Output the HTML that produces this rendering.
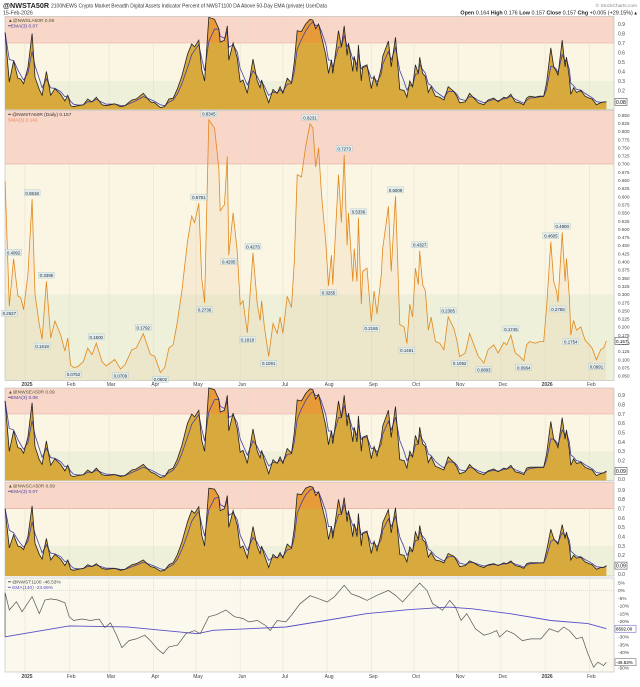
<!DOCTYPE html>
<html><head><meta charset="utf-8">
<style>
body{margin:0;background:#fff;width:640px;height:682px;overflow:hidden;font-family:"Liberation Sans",sans-serif}
svg text{font-family:"Liberation Sans",sans-serif}
</style></head>
<body>
<svg id="chart" width="640" height="682" viewBox="0 0 640 682" xmlns="http://www.w3.org/2000/svg">
<text x="3" y="8" font-size="7.2" font-weight="bold" fill="#222">@NWSTA50R</text>
<text x="51" y="7.5" font-size="5" fill="#333">2100NEWS Crypto Market Breadth Digital Assets Indicator Percent of NWST1100 DA Above 50-Day EMA (private) UserData</text>
<text x="3" y="14.5" font-size="5.2" fill="#333">15-Feb-2026</text>
<text x="637" y="7" font-size="4.8" fill="#888" text-anchor="end">© StockCharts.com</text>
<text x="637" y="14.5" font-size="5.4" fill="#222" text-anchor="end"><tspan font-weight="bold">Open</tspan> 0.164 <tspan font-weight="bold">High</tspan> 0.176 <tspan font-weight="bold">Low</tspan> 0.157 <tspan font-weight="bold">Close</tspan> 0.157 <tspan font-weight="bold">Chg</tspan> +0.005 (+29.15%) ▴</text>
<g id="g"></g>
</svg>
<script>
const days=[-14,-11,-8,-5,-3,-1,2,5,7,10,12,15,18,21,25,28,30,32,34,37,41,44,47,50,54,57,63,67,70,75,78,83,88,91,95,98,101,104,107,110,114,117,119,122,124,126,129,133,136,137,140,142,143,146,149,151,153,156,160,163,165,166,168,171,174,177,179,181,184,187,189,191,194,197,200,202,204,206,208,211,213,215,216,220,222,224,226,227,230,231,233,234,236,237,240,243,245,247,250,251,255,257,260,263,266,268,270,272,274,276,277,279,281,283,285,288,291,294,297,301,303,305,309,312,315,318,322,325,329,332,336,338,341,344,347,350,352,354,358,361,364,366,369,371,373,374,377,379,380,382,383,385,387,390,393,396,398,401,404,406,408];
const mainVals=[.647,.263,.409,.295,.29,.253,.36,.592,.30,.207,.162,.34,.166,.218,.176,.126,.166,.084,.075,.078,.094,.135,.115,.150,.094,.08,.10,.071,.083,.13,.135,.179,.115,.11,.060,.075,.135,.145,.218,.309,.462,.54,.52,.579,.35,.274,.835,.81,.688,.556,.575,.723,.42,.55,.43,.268,.28,.182,.427,.27,.22,.28,.20,.109,.21,.18,.23,.18,.294,.26,.40,.667,.66,.754,.823,.81,.69,.749,.61,.462,.326,.42,.33,.667,.52,.727,.45,.55,.34,.44,.34,.534,.27,.37,.38,.217,.31,.24,.36,.44,.57,.37,.601,.207,.20,.149,.27,.23,.38,.33,.433,.33,.31,.19,.23,.155,.15,.13,.231,.195,.16,.109,.12,.18,.145,.11,.089,.13,.145,.12,.152,.145,.175,.12,.11,.096,.145,.155,.15,.155,.155,.26,.461,.34,.31,.276,.490,.34,.41,.29,.175,.22,.19,.2,.16,.145,.135,.099,.13,.135,.157];
const p1Vals=[.81,.29,.51,.33,.32,.27,.44,.80,.34,.21,.15,.40,.15,.22,.16,.09,.15,.04,.03,.04,.05,.11,.08,.13,.05,.04,.06,.03,.04,.10,.11,.17,.08,.07,.02,.03,.11,.12,.22,.35,.58,.69,.66,.73,.42,.30,.97,.95,.85,.71,.73,.88,.52,.70,.54,.29,.31,.17,.53,.30,.23,.31,.20,.07,.21,.17,.24,.17,.33,.28,.50,.83,.82,.90,.95,.94,.85,.90,.77,.58,.38,.52,.38,.83,.66,.88,.57,.70,.40,.56,.40,.68,.30,.45,.47,.22,.35,.25,.44,.56,.72,.45,.76,.21,.20,.13,.30,.24,.47,.38,.55,.38,.35,.18,.24,.14,.13,.10,.24,.19,.14,.07,.08,.17,.12,.07,.05,.10,.12,.08,.13,.12,.16,.08,.07,.05,.12,.14,.13,.14,.14,.28,.65,.45,.40,.36,.73,.45,.55,.33,.16,.23,.18,.20,.14,.12,.11,.05,.07,.08,.08];
const p3Vals=[.84,.30,.52,.34,.33,.28,.45,.82,.35,.21,.16,.41,.15,.22,.16,.09,.15,.04,.03,.04,.05,.10,.07,.12,.05,.04,.05,.03,.04,.10,.11,.16,.08,.06,.02,.03,.10,.12,.22,.36,.60,.70,.67,.74,.42,.30,.98,.96,.86,.72,.74,.90,.52,.71,.54,.29,.31,.17,.54,.30,.23,.31,.20,.06,.21,.17,.24,.17,.33,.28,.50,.85,.84,.92,.97,.96,.86,.91,.78,.58,.37,.52,.38,.84,.66,.90,.57,.71,.40,.56,.40,.68,.30,.45,.47,.22,.35,.25,.45,.57,.74,.45,.78,.21,.20,.12,.30,.24,.47,.38,.56,.38,.35,.18,.24,.14,.12,.10,.24,.18,.13,.06,.08,.16,.11,.07,.05,.09,.11,.08,.12,.11,.15,.08,.07,.05,.12,.13,.13,.13,.13,.27,.62,.43,.38,.34,.66,.43,.53,.31,.15,.22,.17,.18,.13,.11,.10,.04,.06,.07,.09];
const p4Vals=[.70,.28,.42,.30,.29,.26,.40,.73,.33,.21,.16,.38,.15,.21,.16,.09,.15,.05,.04,.05,.06,.10,.08,.11,.06,.05,.06,.04,.05,.10,.11,.15,.08,.07,.03,.04,.10,.12,.21,.34,.56,.68,.65,.72,.42,.30,.92,.91,.83,.68,.70,.84,.50,.68,.52,.28,.30,.17,.51,.29,.22,.30,.20,.07,.21,.17,.23,.17,.32,.28,.49,.86,.85,.92,.94,.93,.84,.88,.75,.57,.37,.51,.38,.80,.64,.82,.56,.68,.40,.54,.40,.65,.30,.44,.46,.22,.35,.25,.44,.55,.69,.44,.71,.21,.20,.13,.29,.24,.45,.37,.52,.37,.34,.18,.23,.15,.14,.12,.22,.19,.14,.08,.09,.14,.12,.09,.07,.10,.11,.09,.12,.11,.14,.09,.08,.06,.11,.12,.12,.12,.12,.25,.48,.38,.34,.32,.53,.38,.45,.30,.15,.20,.17,.18,.13,.11,.10,.05,.07,.07,.09];
const pctDays=[-14,-11,-6,-2,5,10,14,18,23,28,31,34,40,46,52,56,60,64,68,73,78,84,88,93,97,101,107,113,119,123,129,134,141,147,153,157,163,169,172,177,183,187,193,200,206,212,217,224,229,235,240,247,255,260,265,270,277,282,286,290,293,298,302,306,310,316,322,326,331,333,338,343,349,355,362,368,374,378,382,387,391,395,399,402,406,408];
const pctVals=[-1.5,-12.7,-7.3,-13.8,-4,-15,-6.2,-5.5,-6.2,-8,-17,-19.5,-18.5,-19.5,-18.5,-24,-21,-28.5,-37,-32.5,-31.4,-29,-32.5,-38,-41,-36.6,-35.4,-28,-26,-28,-17,-15.8,-12.7,-17,-18.2,-20.4,-19.5,-22.8,-26,-19.5,-20.4,-16,-8.7,-3.4,-5.4,-7.5,-4.3,3.3,-2.2,-4.3,-6.5,-3.2,0,-3.2,-7.5,-2.2,4.7,0,-8.6,-10.8,-12.9,-6.5,-10.8,-19.5,-15,-24.8,-29,-28,-26,-30.2,-26,-28,-32.5,-31.4,-31.4,-24.8,-27,-23.7,-26,-31.4,-30.2,-41,-49.7,-46.5,-48.6,-46.5];
const emaDays=[-14,31,71,121,132,183,211,240,269,297,314,340,369,395,408];
const emaVals=[-30,-23,-23.6,-28,-25.8,-23.7,-19.5,-15,-12.5,-10.8,-11.9,-15,-19.5,-21.5,-24.8];
const monthLabels=['2025','Feb','Mar','Apr','May','Jun','Jul','Aug','Sep','Oct','Nov','Dec','2026','Feb'];
const monthDays=[0,31,59,90,120,151,181,212,243,273,304,334,365,396];
const labelDays=[-11,-8,5,12,15,34,50,67,83,95,122,126,129,143,156,160,171,200,213,224,234,243,260,268,277,297,305,322,341,350,369,374,377,383,401];
const labelTexts=['0.2627','0.4092','0.5918','0.1618','0.3395','0.0752','0.1500','0.0709','0.1792','0.0602','0.5791','0.2736','0.8345','0.4205','0.1818','0.4273','0.1091','0.8231','0.3255','0.7273','0.5336','0.2165','0.6009','0.1491','0.4327','0.2305','0.1092','0.0893','0.1745','0.0964','0.4605','0.2755','0.4900','0.1754','0.0991'];
const labelDirs=['b','a','a','b','a','b','a','b','a','b','a','b','a','b','b','a','b','a','b','a','a','b','a','b','a','a','b','b','a','b','a','b','a','b','b'];
const p1Ticks=[0.1,0.2,0.3,0.4,0.5,0.6,0.7,0.8,0.9];
const p2Ticks=[0.05,0.075,0.1,0.125,0.15,0.175,0.2,0.225,0.25,0.275,0.3,0.325,0.35,0.375,0.4,0.425,0.45,0.475,0.5,0.525,0.55,0.575,0.6,0.625,0.65,0.675,0.7,0.725,0.75,0.775,0.8,0.825,0.85];
const p3Ticks=[0.0,0.1,0.2,0.3,0.4,0.5,0.6,0.7,0.8,0.9];
const p5Ticks=[5,0,-5,-10,-15,-20,-25,-30,-35,-40,-45,-50];

const NS='http://www.w3.org/2000/svg';
const G=document.getElementById('g');
const XL=5,XR=614;
function X(d){return 25+d*1.425;}
function el(tag,attrs,parent){const e=document.createElementNS(NS,tag);for(const k in attrs)e.setAttribute(k,attrs[k]);(parent||G).appendChild(e);return e;}
function txt(x,y,s,size,fill,anchor,parent){const t=el('text',{x:x,y:y,'font-size':size,fill:fill,'text-anchor':anchor||'start'},parent);t.textContent=s;return t;}

function panelBg(name,top,bot,yRed,yGreen){
  const g=el('g',{});
  
  
  el('rect',{x:XL,y:top,width:XR-XL,height:bot-top,fill:'#fbf5e4'},g);
  el('rect',{x:XL,y:top,width:XR-XL,height:yRed-top,fill:'#f8d6c8'},g);
  el('line',{x1:XL,x2:XR,y1:yRed,y2:yRed,stroke:'#e8a89a','stroke-width':0.6},g);
  if(yGreen!==null){el('rect',{x:XL,y:yGreen,width:XR-XL,height:bot-yGreen,fill:'#eef0da'},g);}
  for(let i=0;i<monthDays.length;i++){el('line',{x1:X(monthDays[i]),x2:X(monthDays[i]),y1:top,y2:bot,stroke:'#e6ddcc','stroke-width':0.5},g);}
  el('rect',{x:XL,y:top,width:XR-XL,height:bot-top,fill:'none',stroke:'#bbb','stroke-width':0.6},g);
  return g;
}
function ema(vals,a){const out=[];let e=vals[0];for(const v of vals){e=a*v+(1-a)*e;out.push(e);}return out;}

function areaPanel(name,vals,top,bot,Y,redY,ticks,sym,emaTxt,last){
  const g=panelBg(name,top,bot,redY,Y(0.3));
  let line='',area='M'+X(days[0])+','+bot;
  for(let i=0;i<days.length;i++){line+=(i?'L':'M')+X(days[i]).toFixed(1)+','+Y(vals[i]).toFixed(1);area+='L'+X(days[i]).toFixed(1)+','+Y(vals[i]).toFixed(1);}
  area+='L'+X(days[days.length-1])+','+bot+'Z';
  const id='clip'+name;
  const cp=el('clipPath',{id:id},g);el('rect',{x:XL,y:top,width:XR-XL,height:redY-top},cp);
  const a1=el('path',{d:area,fill:'#d8a93c'},g);
  
  
  el('path',{d:area,fill:'#e69a38','clip-path':'url(#'+id+')'},g);
  const ev=ema(vals,0.55);let el2='';
  for(let i=0;i<days.length;i++){el2+=(i?'L':'M')+X(days[i]).toFixed(1)+','+Y(ev[i]).toFixed(1);}
  const e1=el('path',{d:el2,fill:'none',stroke:'#4a3fa0','stroke-width':0.8},g);
  
  
  const l1=el('path',{d:line,fill:'none',stroke:'#222','stroke-width':0.8},g);
  
  
  for(const t of ticks){txt(618,Y(t)+1.8,t.toFixed(1),5,'#444','start',g);}
  txt(8,top+5.5,'▲'+sym,4.8,'#553',null,g);
  txt(8,top+11,'━'+emaTxt,4.8,'#4a3fa0',null,g);
  const bx=el('rect',{x:615,y:Y(last)-3.5,width:12,height:7,fill:'#fff',stroke:'#333','stroke-width':0.5},g);
  
  
  txt(616,Y(last)+2,last.toFixed(2),5,'#000','start',g);
}

/* Panel 1 */
const Y1=v=>109.5-v*95;
areaPanel('nwsla50r-panel',p1Vals,16.5,109.5,Y1,Y1(0.7),p1Ticks,'@NWSLA50R 0.08','EMA(3) 0.07',0.08);

/* Panel 2 */
const Y2=v=>115+(0.85-v)*326;
(function(){
  const top=110.5,bot=380.5;
  const g=panelBg('nwsta50r-main-panel',top,bot,Y2(0.7),Y2(0.3));
  let line='',area='M'+X(days[0])+','+bot;
  for(let i=0;i<days.length;i++){line+=(i?'L':'M')+X(days[i]).toFixed(1)+','+Y2(mainVals[i]).toFixed(1);area+='L'+X(days[i]).toFixed(1)+','+Y2(mainVals[i]).toFixed(1);}
  area+='L'+X(days[days.length-1])+','+bot+'Z';
  el('path',{d:area,fill:'rgba(230,150,80,0.10)'},g);
  const l=el('path',{d:line,fill:'none',stroke:'#e0891c','stroke-width':0.8},g);
  
  
  for(const t of p2Ticks){txt(618,Y2(t)+1.8,t.toFixed(3),4.6,'#444','start',g);}
  for(let i=0;i<labelDays.length;i++){
    const v=parseFloat(labelTexts[i]);const x=X(labelDays[i]);const y=labelDirs[i]==='a'?Y2(v)-6:Y2(v)+7;
    const lg=el('g',{},g);
    
    
    el('rect',{x:x-8,y:y-3.3,width:16,height:6,fill:'#e4ecec',stroke:'#9bb','stroke-width':0.3},lg);
    txt(x,y+1.6,labelTexts[i],4.4,'#234','middle',lg);
  }
  txt(8,top+5.5,'━ @NWSTA50R (Daily) 0.157',4.8,'#333',null,g);
  txt(8,top+11,'SMA(3) 0.142',4.8,'#f08060',null,g);
  const bx=el('rect',{x:615,y:Y2(0.157)-3.5,width:13,height:7,fill:'#fff',stroke:'#333','stroke-width':0.5},g);
  
  
  txt(616,Y2(0.157)+2,'0.157',4.6,'#000','start',g);
})();

function monthAxis(name,y){
  const g=el('g',{});
  
  
  for(let i=0;i<monthLabels.length;i++){
    const bold=monthLabels[i].length===4;
    const t=txt(X(monthDays[i])+2,y,monthLabels[i],5,'#444','middle',g);
    if(bold)t.setAttribute('font-weight','bold');
  }
}
monthAxis('x-axis-top',386);

/* Panel 3 */
const Y3=v=>479.3-v*93.3;
areaPanel('nwsea50r-panel',p3Vals,388,480.5,Y3,Y3(0.7),p3Ticks,'@NWSEA50R 0.09','EMA(3) 0.08',0.09);
/* Panel 4 */
const Y4=v=>574-v*93.3;
areaPanel('nwsca50r-panel',p4Vals,482,576,Y4,Y4(0.7),p3Ticks,'@NWSCA50R 0.09','EMA(3) 0.07',0.09);

/* Panel 5 */
const Y5=p=>590.4-p*1.545;
(function(){
  const top=578,bot=672;
  const g=el('g',{});
  
  
  el('rect',{x:XL,y:top,width:XR-XL,height:bot-top,fill:'#fbf8ee'},g);
  for(let i=0;i<monthDays.length;i++){el('line',{x1:X(monthDays[i]),x2:X(monthDays[i]),y1:top,y2:bot,stroke:'#e6e0d2','stroke-width':0.5},g);}
  el('line',{x1:XL,x2:XR,y1:Y5(0),y2:Y5(0),stroke:'#bbb','stroke-width':0.5,'stroke-dasharray':'1,1'},g);
  el('rect',{x:XL,y:top,width:XR-XL,height:bot-top,fill:'none',stroke:'#bbb','stroke-width':0.6},g);
  let d='';for(let i=0;i<emaDays.length;i++)d+=(i?'L':'M')+X(emaDays[i]).toFixed(1)+','+Y5(emaVals[i]).toFixed(1);
  const e=el('path',{d:d,fill:'none',stroke:'#5a4fc8','stroke-width':0.9},g);
  
  
  let p='M'+X(pctDays[0])+','+Y5(-30);
  for(let i=0;i<pctDays.length;i++)p+='L'+X(pctDays[i]).toFixed(1)+','+Y5(pctVals[i]).toFixed(1);
  const l=el('path',{d:p,fill:'none',stroke:'#555','stroke-width':0.7},g);
  
  
  for(const t of p5Ticks){txt(618,Y5(t)+1.8,t+'%',4.8,'#444','start',g);}
  txt(8,top+5.5,'━ @NWST1100 -46.53%',4.8,'#444',null,g);
  txt(8,top+11,'━ EMA(140) -23.66%',4.8,'#5a4fc8',null,g);
  el('rect',{x:615,y:Y5(-24.8)-3.5,width:21,height:7,fill:'#fff',stroke:'#5a4fc8','stroke-width':0.5},g);
  txt(616,Y5(-24.8)+2,'8592.00',4.5,'#000','start',g);
  el('rect',{x:615,y:Y5(-46.5)-3.5,width:21,height:7,fill:'#fff',stroke:'#555','stroke-width':0.5},g);
  txt(616,Y5(-46.5)+2,'-46.53%',4.5,'#000','start',g);
})();
monthAxis('x-axis-bottom',678);
</script>
</body></html>
